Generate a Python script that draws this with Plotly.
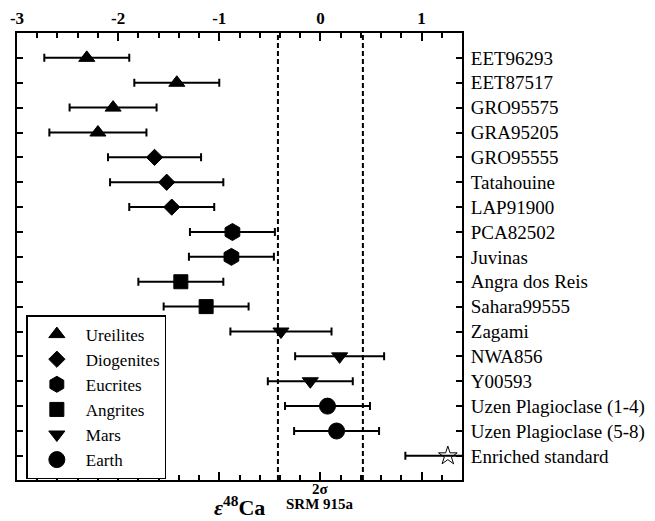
import plotly.graph_objects as go

samples = ["EET96293", "EET87517", "GRO95575", "GRA95205", "GRO95555", "Tatahouine",
           "LAP91900", "PCA82502", "Juvinas", "Angra dos Reis", "Sahara99555", "Zagami",
           "NWA856", "Y00593", "Uzen Plagioclase (1-4)", "Uzen Plagioclase (5-8)",
           "Enriched standard"]
eps48 = [-2.31, -1.42, -2.05, -2.20, -1.64, -1.52, -1.47, -0.87, -0.88, -1.38, -1.13,
         -0.39, 0.19, -0.10, 0.07, 0.16, 1.26]
err2s = [0.42, 0.42, 0.43, 0.48, 0.46, 0.56, 0.42, 0.42, 0.42, 0.42, 0.42,
         0.50, 0.44, 0.42, 0.42, 0.42, 0.42]
groups = ["Ureilites"] * 4 + ["Diogenites"] * 3 + ["Eucrites"] * 2 + ["Angrites"] * 2 + \
         ["Mars"] * 3 + ["Earth"] * 2 + ["Standard"]

group_order = ["Ureilites", "Diogenites", "Eucrites", "Angrites", "Mars", "Earth", "Standard"]
symbols = {"Ureilites": "triangle-up", "Diogenites": "diamond", "Eucrites": "hexagon",
           "Angrites": "square", "Mars": "triangle-down", "Earth": "circle", "Standard": "star-open"}
sizes = {"Ureilites": 14, "Diogenites": 12.5, "Eucrites": 17, "Angrites": 14,
         "Mars": 14, "Earth": 16, "Standard": 14}

srm_2sigma = 0.42
x_ticks = [-3, -2, -1, 0, 1]

FONT = "Liberation Serif"

fig = go.Figure()
for g in group_order:
    idx = [i for i, gg in enumerate(groups) if gg == g]
    fig.add_trace(go.Scatter(
        x=[eps48[i] for i in idx],
        y=idx,
        mode="markers",
        name=g,
        showlegend=(g != "Standard"),
        marker=dict(symbol=symbols[g], size=sizes[g], color="black",
                    line=dict(color="black", width=1)),
        error_x=dict(type="data", array=[err2s[i] for i in idx], color="black",
                     thickness=2, width=4),
    ))

for xv in (-srm_2sigma, srm_2sigma):
    fig.add_shape(type="line", xref="x", yref="paper", x0=xv, x1=xv, y0=0, y1=1,
                  line=dict(color="black", width=2, dash="5px,3px"), layer="below")

fig.add_annotation(x=0, xref="x", y=-0.021, yref="paper", text="<b>2σ</b>",
                   showarrow=False, font=dict(family=FONT, size=15, color="black"),
                   yanchor="middle")
fig.add_annotation(x=0, xref="x", y=-0.054, yref="paper", text="<b>SRM 915a</b>",
                   showarrow=False, font=dict(family=FONT, size=15, color="black"),
                   yanchor="middle")
fig.add_annotation(x=0.5, xref="paper", y=-0.058, yref="paper",
                   text="<b><i>ε</i><sup>48</sup>Ca</b>",
                   showarrow=False, font=dict(family=FONT, size=22, color="black"),
                   yanchor="middle")

fig.update_xaxes(
    range=[-3, 1.4], side="top", tickvals=x_ticks, ticktext=[str(v) for v in x_ticks],
    ticks="inside", ticklen=8, tickwidth=1.5, tickcolor="black",
    minor=dict(dtick=0.2, tick0=0, ticks="inside", ticklen=5, tickwidth=1.5, tickcolor="black"),
    showline=True, linewidth=2, linecolor="black", mirror="allticks",
    showgrid=False, zeroline=False, automargin=False,
    tickfont=dict(family=FONT, size=17, color="black", weight="bold"),
)
fig.update_yaxes(
    range=[16.97, -1.0], side="right", tickvals=list(range(len(samples))), ticktext=samples,
    ticks="inside", ticklen=6, tickwidth=1.5, tickcolor="black",
    showline=True, linewidth=2, linecolor="black", mirror="allticks",
    showgrid=False, zeroline=False, ticklabelstandoff=3, automargin=False,
    tickfont=dict(family=FONT, size=19, color="black"),
)

fig.update_layout(
    width=655, height=521,
    margin=dict(l=17, r=193, t=33, b=41),
    plot_bgcolor="white", paper_bgcolor="white",
    font=dict(family=FONT, color="black"),
    legend=dict(x=0.021, y=0.369, xanchor="left", yanchor="top",
                bgcolor="white", bordercolor="black", borderwidth=1.5,
                font=dict(family=FONT, size=17, color="black"),
                itemwidth=48, tracegroupgap=0),
)

fig.write_html("out.html")
